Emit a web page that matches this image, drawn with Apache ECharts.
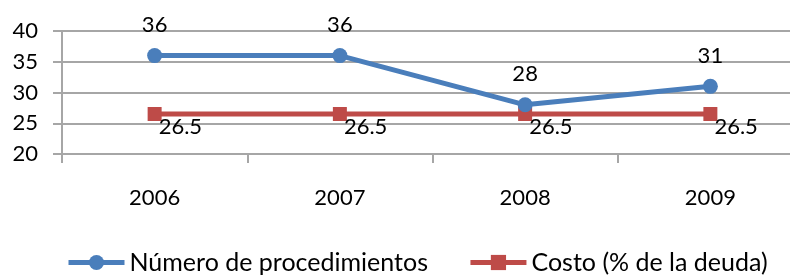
<!DOCTYPE html>
<html>
<head>
<meta charset="utf-8">
<script src="https://cdn.jsdelivr.net/npm/echarts@6/dist/echarts.min.js"></script>
<style>
  html, body { margin: 0; padding: 0; background: #fff; }
  #main { width: 790px; height: 276px; }
</style>
</head>
<body>
<div id="main"></div>
<script>
// chart data
const years = ['2006', '2007', '2008', '2009'];
const procedimientos = [36, 36, 28, 31];
const costo = [26.5, 26.5, 26.5, 26.5];
const seriesNames = ['Número de procedimientos', 'Costo (% de la deuda)'];

const font = 'Lato, "Open Sans", sans-serif';
const gridColor = '#a6a6a6';

const chart = echarts.init(document.getElementById('main'), null, { renderer: 'canvas' });

const option = {
    animation: false,
    textStyle: { fontFamily: font },
    grid: {
        left: 62,
        top: 31,
        width: 741,
        height: 123,
        outerBoundsMode: 'none'
    },
    xAxis: {
        type: 'category',
        data: years,
        boundaryGap: true,
        axisLine: { lineStyle: { color: gridColor, width: 2 } },
        axisTick: { show: true, length: 9, lineStyle: { color: gridColor, width: 2 } },
        axisLabel: { color: '#000', fontSize: 22, margin: 33, fontFamily: font }
    },
    yAxis: {
        type: 'value',
        min: 20,
        max: 40,
        interval: 5,
        axisLine: { show: true, lineStyle: { color: gridColor, width: 2 } },
        axisTick: { show: true, length: 9, lineStyle: { color: gridColor, width: 2 } },
        axisLabel: { color: '#000', fontSize: 22, margin: 24, fontFamily: font },
        splitLine: { lineStyle: { color: gridColor, width: 2 } }
    },
    legend: {
        left: 61,
        top: 245,
        itemWidth: 56,
        itemHeight: 19,
        itemGap: 40,
        lineStyle: { width: 5 },
        textStyle: { color: '#000', fontSize: 25, fontFamily: font },
        data: seriesNames
    },
    series: [
        {
            name: seriesNames[0],
            type: 'line',
            data: procedimientos,
            symbol: 'circle',
            symbolSize: 15,
            color: '#4a7ebb',
            lineStyle: { width: 5, color: '#4a7ebb' },
            label: {
                show: true,
                position: 'top',
                distance: 12,
                color: '#000',
                fontSize: 22,
                fontFamily: font
            },
            z: 3
        },
        {
            name: seriesNames[1],
            type: 'line',
            data: costo,
            symbol: 'rect',
            symbolSize: 14,
            color: '#be4b48',
            lineStyle: { width: 5, color: '#be4b48' },
            label: {
                show: true,
                position: 'right',
                distance: 0,
                offset: [-3, 13],
                color: '#000',
                fontSize: 22,
                fontFamily: font,
                formatter: (p) => p.value.toFixed(1)
            },
            z: 2
        }
    ]
};

chart.setOption(option);
</script>
</body>
</html>
